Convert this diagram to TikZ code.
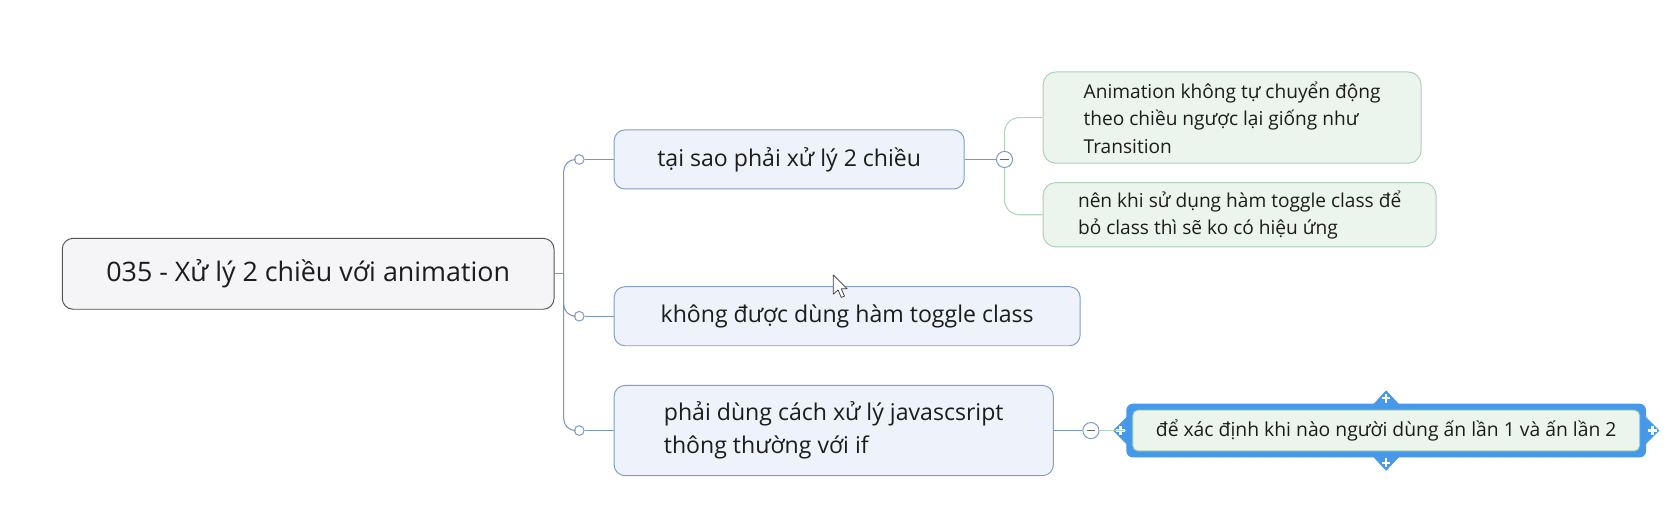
\documentclass[tikz,border=0pt]{standalone}
\usepackage{fontspec}
\setmainfont{Open Sans}
\usetikzlibrary{calc}
\definecolor{spine}{RGB}{122,152,196}
\definecolor{bfill}{RGB}{238,243,251}
\definecolor{bdraw}{RGB}{128,158,200}
\definecolor{rfill}{RGB}{245,245,247}
\definecolor{rdraw}{RGB}{85,85,85}
\definecolor{gfill}{RGB}{235,245,238}
\definecolor{gdraw}{RGB}{168,210,180}
\definecolor{gline}{RGB}{178,214,190}
\definecolor{selblue}{RGB}{70,152,234}
\definecolor{txt}{RGB}{28,28,28}
\tikzset{
  rootbox/.style={draw=rdraw, fill=rfill, rounded corners=10pt, line width=0.9pt, inner sep=0pt, text=txt, font=\fontsize{25}{30}\selectfont},
  topicbox/.style={draw=bdraw, fill=bfill, rounded corners=10pt, line width=0.9pt, inner sep=0pt, text=txt, font=\fontsize{21.5}{31}\selectfont, align=left},
  subbox/.style={draw=gdraw, fill=gfill, rounded corners=12pt, line width=0.9pt, inner sep=0pt, text=txt, font=\fontsize{17.8}{25.5}\selectfont, align=left},
  knob/.style={circle, draw=spine, fill=white, line width=0.9pt, minimum size=9pt, inner sep=0pt},
  minusknob/.style={circle, draw=spine, fill=white, line width=0.9pt, minimum size=15pt, inner sep=0pt},
  conn/.style={draw=spine, line width=1pt},
  gconn/.style={draw=gline, line width=1pt},
  handle/.style={fill=selblue, draw=selblue, line width=0.6pt, line join=round}
}
\begin{document}
\begin{tikzpicture}[x=1pt, y=-1pt]
\useasboundingbox[fill=white] (0,0) rectangle (1560,491);

% root
\node[rootbox, minimum width=458pt, minimum height=66pt] (root) at (287,255) {035 - Xử lý 2 chiều với animation};

% topics
\node[topicbox, minimum width=326pt, minimum height=55pt] (n1) at (735,148.5) {tại sao phải xử lý 2 chiều};
\node[topicbox, minimum width=434pt, minimum height=55pt] (n2) at (789,294.5) {không được dùng hàm toggle class};
\node[topicbox, minimum width=409pt, minimum height=84pt] (n3) at (776.5,401) {phải dùng cách xử lý javascsript\\thông thường với if};

% knobs
\node[knob] (c1) at (539.5,148.5) {};
\node[knob] (c2) at (539.5,294.5) {};
\node[knob] (c3) at (539.5,401) {};
\coordinate (sp) at (525,255);

\draw[conn] (root.east) -- (sp);
\draw[conn, rounded corners=11pt] (c1.west) -| (sp) |- (c3.west);
\draw[conn, rounded corners=11pt] (sp) |- (c2.west);
\draw[conn] (c1.east) -- (n1.west);
\draw[conn] (c2.east) -- (n2.west);
\draw[conn] (c3.east) -- (n3.west);

% subtopics of n1
\node[subbox, minimum width=352pt, minimum height=85pt] (a) at (1147.5,109.5) {Animation không tự chuyển động\\theo chiều ngược lại giống như\\Transition};
\node[subbox, minimum width=366pt, minimum height=60pt] (b) at (1154.5,200) {nên khi sử dụng hàm toggle class để\\bỏ class thì sẽ ko có hiệu ứng};

\node[minusknob] (m1) at (935.5,148.5) {};
\draw[conn] (n1.east) -- (m1.west);
\draw[gconn, rounded corners=14pt] (m1.north) |- (a.west);
\draw[gconn, rounded corners=14pt] (m1.south) |- (b.west);
\draw[line width=1.4pt, draw=black!60] ($(m1)+(-4,0)$) -- ($(m1)+(4,0)$);

% selected subtopic of n3
\node[minusknob] (m2) at (1016,401) {};
\draw[conn] (n3.east) -- (m2.west);
\draw[line width=1.4pt, draw=black!60] ($(m2)+(-4,0)$) -- ($(m2)+(4,0)$);

\node[fill=selblue, rounded corners=6pt, minimum width=484pt, minimum height=50pt, inner sep=0pt] (sel) at (1291,401) {};
\draw[handle] (1278,378) -- (1291,364) -- (1304,378) -- cycle;
\draw[handle] (1278,424) -- (1291,438) -- (1304,424) -- cycle;
\draw[handle] (1050,388) -- (1037,401) -- (1050,414) -- cycle;
\draw[handle] (1532,388) -- (1545,401) -- (1532,414) -- cycle;
\foreach \p in {(1291,371),(1291,431),(1043.5,401),(1539,401)}{
  \draw[white, line width=2pt] \p ++(-4,0) -- ++(8,0);
  \draw[white, line width=2pt] \p ++(0,-4) -- ++(0,8);
}
\node[subbox, rounded corners=5pt, minimum width=472pt, minimum height=38pt, font=\fontsize{18}{22}\selectfont] (d) at (1291,401) {để xác định khi nào người dùng ấn lần 1 và ấn lần 2};
\draw[gconn] (m2.east) -- (sel.west);

% mouse cursor
\draw[fill=white, draw=black!75, line width=0.7pt, line join=round] (776,256) -- (776,274) -- (780.5,270) -- (783.5,277) -- (786.5,275.8) -- (783.5,269) -- (789,269) -- cycle;
\end{tikzpicture}
\end{document}
